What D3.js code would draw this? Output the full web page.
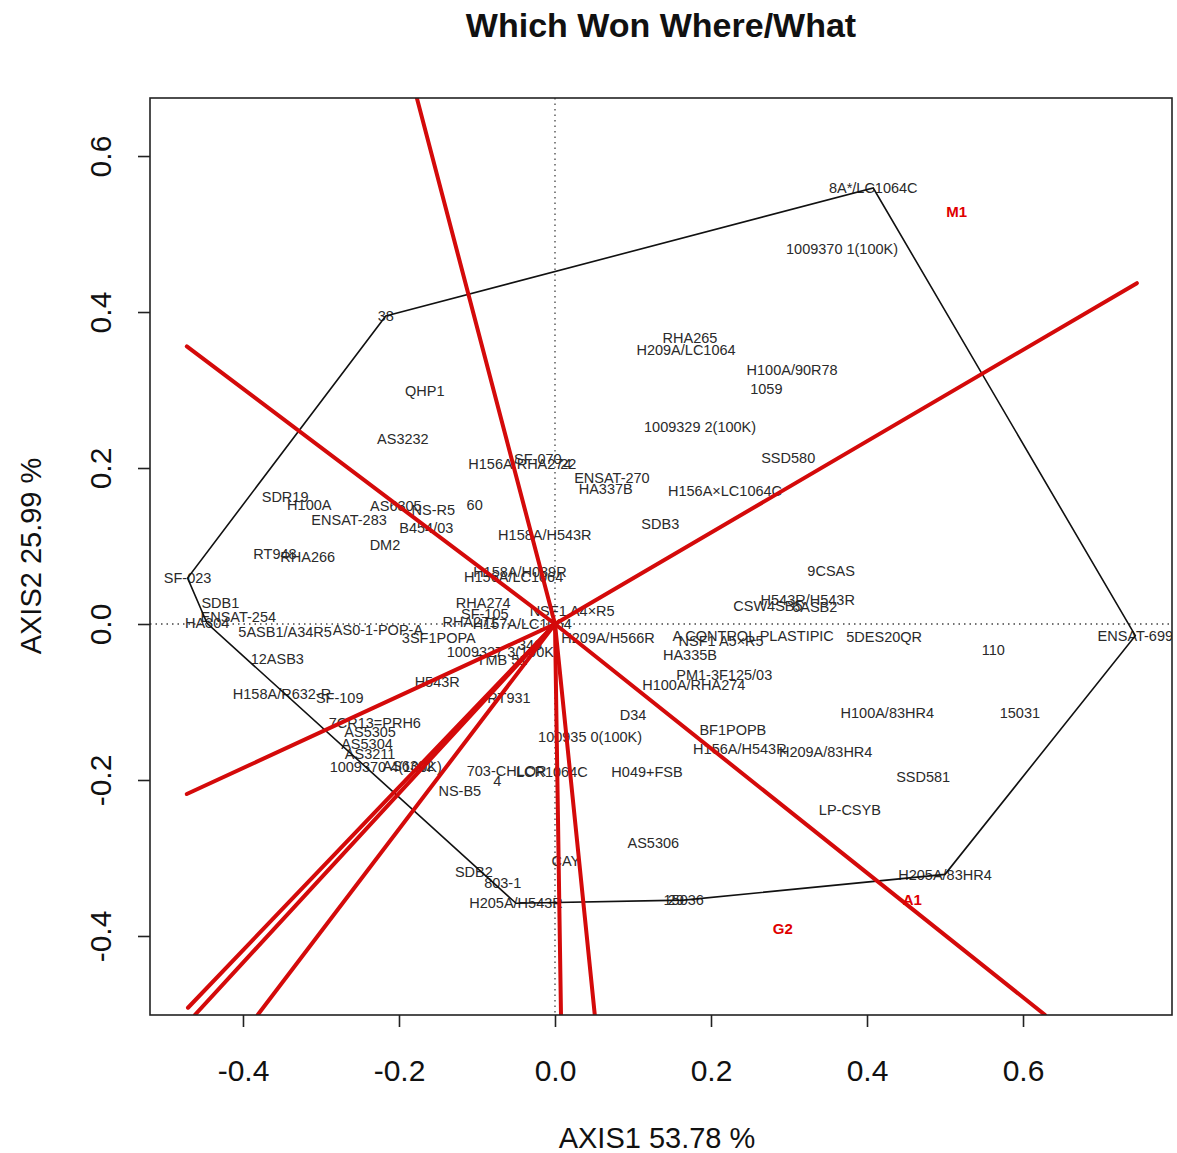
<!DOCTYPE html>
<html>
<head>
<meta charset="utf-8">
<script src="https://cdn.jsdelivr.net/npm/d3@7"></script>
<style>
  body { margin: 0; background: #fff; }
  svg { display: block; font-family: "Liberation Sans", Arial, sans-serif; }
</style>
</head>
<body>
<svg id="chart" width="1177" height="1153"></svg>
<script>
// Genotype scores on the first two principal axes
const genotypes = [
  "38", "8A*/LC1064C", "1009370 1(100K)", "QHP1", "RHA265", "H209A/LC1064",
  "H100A/90R78", "1059", "AS3232", "1009329 2(100K)", "H156A/RHA274", "SF-070", "22",
  "ENSAT-270", "HA337B", "SSD580", "H156A×LC1064C", "SDR19", "H100A", "AS6305",
  "NS-R5", "60", "ENSAT-283", "B454/03", "SDB3", "H158A/H543R", "DM2", "RT948",
  "RHA266", "SF-023", "H156A/LC1064", "H158A/H089R", "9CSAS", "SDB1", "RHA274",
  "H543R/H543R", "NSF1 A4×R5", "CSW4SB5", "6ASB2", "SF-105", "ENSAT-254", "HA304",
  "RHA271", "H157A/LC1064", "5ASB1/A34R5", "AS0-1-POP-A", "3SF1POPA",
  "A CONTROL PLASTIPIC", "NSF1 A5×R5", "H209A/H566R", "5DES20QR", "ENSAT-699",
  "1009327 3(100K)", "346", "TMB 51", "110", "12ASB3", "HA335B", "PM1-3F125/03",
  "H100A/RHA274", "H543R", "H158A/R632-R", "SF-109", "RT931", "D34", "BF1POPB",
  "H100A/83HR4", "15031", "7CR13=PRH6", "AS5305", "100935 0(100K)", "H156A/H543R",
  "H209A/83HR4", "AS5304", "AS3211", "1009370 4(100K)", "AS6302", "703-CHLOR", "4",
  "LCR1064C", "H049+FSB", "SSD581", "NS-B5", "LP-CSYB", "AS5306", "CAY", "SDB2",
  "803-1", "H205A/H543R", "29", "15036", "H205A/83HR4"
];
const genoAxis1 = [
  -0.217, 0.408, 0.368, -0.167, 0.173, 0.168,
  0.304, 0.271, -0.195, 0.186, -0.045, -0.022, 0.017,
  0.073, 0.065, 0.299, 0.218, -0.346, -0.315, -0.204,
  -0.156, -0.103, -0.264, -0.165, 0.135, -0.013, -0.218, -0.359,
  -0.317, -0.471, -0.053, -0.045, 0.354, -0.429, -0.092,
  0.324, 0.022, 0.273, 0.333, -0.090, -0.406, -0.446,
  -0.109, -0.042, -0.346, -0.227, -0.149,
  0.254, 0.213, 0.068, 0.422, 0.744,
  -0.067, -0.032, -0.068, 0.562, -0.356, 0.173, 0.217,
  0.178, -0.151, -0.350, -0.276, -0.059, 0.100, 0.228,
  0.426, 0.596, -0.231, -0.237, 0.045, 0.237,
  0.347, -0.241, -0.237, -0.217, -0.188, -0.062, -0.074,
  -0.004, 0.118, 0.472, -0.122, 0.378, 0.126, 0.014, -0.104,
  -0.067, -0.050, 0.155, 0.165, 0.500
];
const genoAxis2 = [
  0.395, 0.559, 0.481, 0.299, 0.367, 0.351,
  0.326, 0.301, 0.238, 0.253, 0.205, 0.212, 0.206,
  0.188, 0.173, 0.213, 0.171, 0.163, 0.153, 0.151,
  0.146, 0.153, 0.133, 0.124, 0.129, 0.114, 0.101, 0.090,
  0.086, 0.059, 0.060, 0.067, 0.068, 0.027, 0.027,
  0.031, 0.017, 0.023, 0.022, 0.013, 0.009, 0.001,
  0.003, 0.000, -0.010, -0.008, -0.018,
  -0.015, -0.022, -0.018, -0.017, -0.015,
  -0.035, -0.027, -0.046, -0.033, -0.044, -0.040, -0.065,
  -0.078, -0.074, -0.090, -0.094, -0.094, -0.117, -0.135,
  -0.114, -0.114, -0.127, -0.138, -0.145, -0.160,
  -0.164, -0.154, -0.167, -0.183, -0.182, -0.188, -0.201,
  -0.190, -0.190, -0.196, -0.214, -0.238, -0.281, -0.304, -0.318,
  -0.332, -0.358, -0.354, -0.354, -0.321
];

// Vertex genotypes of the convex hull, in drawing order
const hullVertices = ["38", "8A*/LC1064C", "ENSAT-699", "H205A/83HR4", "15036",
                      "H205A/H543R", "HA304", "SF-023"];

// Environment markers
const environments = ["M1", "G2", "A1"];
const envAxis1 = [0.515, 0.292, 0.458];
const envAxis2 = [0.529, -0.390, -0.353];

// Sector rays from the origin, perpendicular to the hull sides (far end points)
const rayAxis1 = [-0.177, -0.472, 0.746, -0.472, -0.4705, -0.4615, -0.381, 0.0077, 0.051, 0.628];
const rayAxis2 = [0.674, 0.356, 0.437, -0.218, -0.492, -0.501, -0.501, -0.501, -0.501, -0.501];

const xTicks = [-0.4, -0.2, 0.0, 0.2, 0.4, 0.6];
const yTicks = [-0.4, -0.2, 0.0, 0.2, 0.4, 0.6];

const titleText = "Which Won Where/What";
const xTitle = "AXIS1 53.78 %";
const yTitle = "AXIS2 25.99 %";

// ---- layout ----
const plot = { left: 150, right: 1172, top: 98, bottom: 1015 };
const x = d3.scaleLinear().domain([-0.5192, 0.7910]).range([plot.left, plot.right]);
const y = d3.scaleLinear().domain([-0.5013, 0.6744]).range([plot.bottom, plot.top]);
const fmt = v => (v < 0 ? "-" : "") + Math.abs(v).toFixed(1);

const svg = d3.select("#chart");

svg.append("defs").append("clipPath").attr("id", "plotClip")
  .append("rect")
  .attr("x", plot.left).attr("y", plot.top)
  .attr("width", plot.right - plot.left).attr("height", plot.bottom - plot.top);

const g = svg.append("g").attr("clip-path", "url(#plotClip)");

// dotted reference axes through the origin
g.append("line")
  .attr("x1", x(0)).attr("x2", x(0)).attr("y1", plot.top).attr("y2", plot.bottom)
  .attr("stroke", "#444").attr("stroke-width", 1.3).attr("stroke-dasharray", "1.5,4");
g.append("line")
  .attr("x1", plot.left).attr("x2", plot.right).attr("y1", y(0)).attr("y2", y(0))
  .attr("stroke", "#444").attr("stroke-width", 1.3).attr("stroke-dasharray", "1.5,4");

// genotype labels
const geno = genotypes.map((n, i) => ({ name: n, a1: genoAxis1[i], a2: genoAxis2[i] }));
g.append("g").selectAll("text").data(geno).join("text")
  .attr("x", d => x(d.a1)).attr("y", d => y(d.a2))
  .attr("dy", "0.36em")
  .attr("text-anchor", "middle")
  .attr("font-size", 14.5)
  .attr("fill", "#2a2a2a")
  .text(d => d.name);

// convex hull
const byName = new Map(geno.map(d => [d.name, d]));
const hull = hullVertices.map(n => byName.get(n));
g.append("path")
  .datum(hull)
  .attr("d", d3.line().x(d => x(d.a1)).y(d => y(d.a2)).curve(d3.curveLinearClosed))
  .attr("fill", "none").attr("stroke", "#111").attr("stroke-width", 1.6);

// sector rays
const rays = rayAxis1.map((v, i) => ({ a1: v, a2: rayAxis2[i] }));
g.append("g").selectAll("line").data(rays).join("line")
  .attr("x1", x(0)).attr("y1", y(0))
  .attr("x2", d => x(d.a1)).attr("y2", d => y(d.a2))
  .attr("stroke", "#d40a0a").attr("stroke-width", 4).attr("stroke-linecap", "round");

// environment labels
const env = environments.map((n, i) => ({ name: n, a1: envAxis1[i], a2: envAxis2[i] }));
g.append("g").selectAll("text").data(env).join("text")
  .attr("x", d => x(d.a1)).attr("y", d => y(d.a2))
  .attr("dy", "0.36em")
  .attr("text-anchor", "middle")
  .attr("font-size", 15).attr("font-weight", "bold")
  .attr("fill", "#e00000")
  .text(d => d.name);

// frame
svg.append("rect")
  .attr("x", plot.left).attr("y", plot.top)
  .attr("width", plot.right - plot.left).attr("height", plot.bottom - plot.top)
  .attr("fill", "none").attr("stroke", "#222").attr("stroke-width", 1.6);

// axes
const xAxis = svg.append("g")
  .attr("transform", `translate(0,${plot.bottom})`)
  .call(d3.axisBottom(x).tickValues(xTicks).tickFormat(fmt).tickSize(12).tickPadding(33));
xAxis.select(".domain").remove();
xAxis.selectAll("line").attr("stroke", "#222").attr("stroke-width", 1.6);
xAxis.selectAll("text")
  .attr("font-size", 30).attr("fill", "#111")
  .attr("font-family", "'Liberation Sans', Arial, sans-serif");

const yAxis = svg.append("g")
  .attr("transform", `translate(${plot.left},0)`)
  .call(d3.axisLeft(y).tickValues(yTicks).tickFormat(fmt).tickSize(12).tickPadding(10));
yAxis.select(".domain").remove();
yAxis.selectAll("line").attr("stroke", "#222").attr("stroke-width", 1.6);
yAxis.selectAll("text")
  .attr("font-size", 30).attr("fill", "#111")
  .attr("font-family", "'Liberation Sans', Arial, sans-serif")
  .attr("text-anchor", "middle")
  .attr("x", 0).attr("dy", 0)
  .attr("transform", "translate(-39,0) rotate(-90)");

// titles
svg.append("text")
  .attr("x", 661).attr("y", 37)
  .attr("text-anchor", "middle")
  .attr("font-size", 34).attr("font-weight", "bold").attr("fill", "#111")
  .text(titleText);

svg.append("text")
  .attr("x", 657).attr("y", 1148)
  .attr("text-anchor", "middle")
  .attr("font-size", 29).attr("fill", "#111")
  .text(xTitle);

svg.append("text")
  .attr("transform", "translate(41,556) rotate(-90)")
  .attr("text-anchor", "middle")
  .attr("font-size", 29).attr("fill", "#111")
  .text(yTitle);
</script>
</body>
</html>
